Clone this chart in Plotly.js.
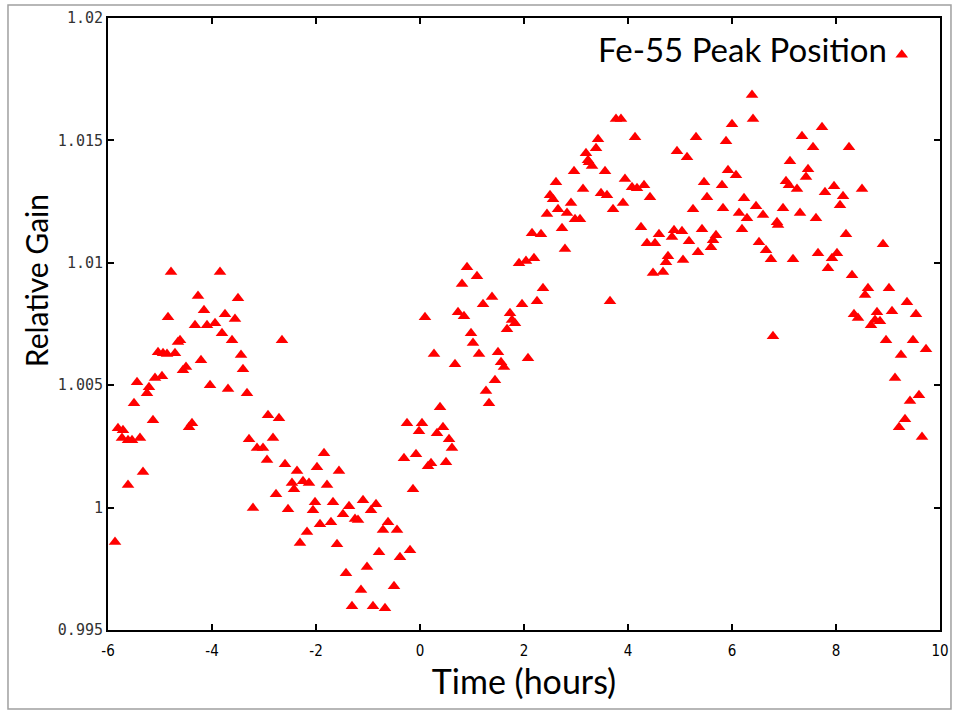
<!DOCTYPE html>
<html>
<head>
<meta charset="utf-8">
<script src="https://cdn.plot.ly/plotly-3.0.1.min.js"></script>
<style>
html,body{margin:0;padding:0;background:#fff;}
#chart{width:955px;height:713px;}
</style>
</head>
<body>
<div id="chart"></div>
<script>
const seriesName = 'Fe-55 Peak Position';
const xTitle = 'Time (hours)';
const yTitle = 'Relative Gain';
const xTickVals = [-6, -4, -2, 0, 2, 4, 6, 8, 10];
const xTickText = ['-6', '-4', '-2', '0', '2', '4', '6', '8', '10'];
const yTickVals = [0.995, 1, 1.005, 1.01, 1.015, 1.02];
const yTickText = ['0.995', '1', '1.005', '1.01', '1.015', '1.02'];

const timeHours = [
-5.865,-5.808,-5.712,-5.731,-5.615,-5.538,-5.385,-5.615,-5.327,-5.5,-5.442,-5.25,-5.212,-5.135,-5.096,-4.962,-5.038,-4.942,-4.865,-4.712,
-4.846,-4.788,-4.654,-4.615,-4.558,-4.5,-4.442,-4.385,-4.327,-4.269,-4.212,-4.154,-4.096,-3.942,-4.038,-3.846,-3.808,-3.75,-3.692,-3.615,
-3.558,-3.5,-3.442,-3.404,-3.327,-3.212,-3.288,-3.135,-3.019,-2.942,-2.923,-2.827,-2.712,-2.654,-2.769,-2.596,-2.538,-2.462,-2.423,-2.365,
-2.308,-2.25,-2.135,-1.981,-2.173,-2.058,-2.019,-1.923,-1.846,-1.558,-1.788,-1.673,-1.365,-1.481,-1.096,-0.942,-0.846,-1.25,-1.192,-1.712,
-0.615,-0.712,-0.442,-1.596,-0.788,-0.385,-0.192,-1.019,-1.423,-0.5,-1.135,-1.308,-0.904,-0.673,-0.135,-0.308,-0.077,0.154,0.212,0.5,
0.615,0.558,0.442,0.327,0.385,-0.25,0.038,-0.019,0.673,1.442,1.269,1.327,1.558,1.615,1.5,2.077,1.135,0.269,0.981,1.019,
1.673,1.769,1.827,1.731,1.962,2.25,2.365,0.096,0.731,0.846,0.808,0.904,1.096,1.212,1.385,1.904,2.038,2.192,3.654,2.788,
2.154,2.327,2.731,2.442,2.654,2.827,2.981,3.077,2.904,2.5,2.558,2.615,3.135,2.962,3.25,3.308,3.558,3.481,3.596,3.712,
3.769,3.865,4.135,3.423,3.385,3.192,3.231,3.942,4.077,4.173,4.308,4.423,3.904,4.25,4.365,4.519,4.596,4.481,4.673,4.731,
4.769,4.885,4.846,5.038,5.058,5.173,5.346,5.423,5.596,5.635,5.692,5.25,5.519,5.462,5.308,4.942,5.135,6.385,6.404,6.0,
5.885,7.115,5.923,6.077,5.808,5.827,6.231,6.462,6.596,6.135,6.288,6.981,7.038,7.096,7.25,6.865,6.885,6.192,6.519,6.654,
6.75,7.173,6.788,7.731,7.346,7.558,8.25,7.462,7.423,7.962,7.788,8.135,8.077,8.5,7.308,7.615,8.192,8.904,7.654,8.019,
7.923,7.846,8.308,8.615,8.558,9.019,9.365,9.077,9.538,8.346,8.423,8.788,8.75,8.846,8.673,8.962,9.481,9.731,9.25,9.135,
9.596,9.423,9.327,9.212,9.654
];

const relGain = [
0.99859,1.00324,1.00316,1.00284,1.00275,1.00275,1.00284,1.00092,1.00145,1.00426,1.00512,1.00467,1.00492,1.00357,1.00529,1.00537,1.00635,1.00631,1.00627,1.00631,
1.00778,1.00962,1.00676,1.00684,1.00561,1.00574,1.00328,1.00345,1.00745,1.00864,1.00602,1.00806,1.00745,1.00753,1.00500,1.00962,1.00712,1.00790,1.00484,1.00684,
1.00770,1.00855,1.00623,1.00565,1.00467,0.99998,1.00279,1.00243,1.00243,1.00194,1.00377,1.00284,1.00365,1.00684,1.00055,1.00177,0.99993,1.00100,1.00075,1.00149,
0.99855,1.00108,1.00100,1.00165,0.99900,0.99989,1.00022,0.99932,1.00222,1.00149,1.00092,1.00022,1.00006,0.99973,1.00030,0.99989,1.00014,0.99953,0.99949,0.99940,
0.99940,0.99908,0.99908,0.99850,0.99818,0.99797,0.99826,0.99757,0.99732,0.99679,0.99663,0.99597,0.99597,0.99589,1.00075,1.00202,1.00218,1.00169,1.00181,1.00185,
1.00243,1.00279,1.00328,1.00304,1.00410,1.00345,1.00345,1.00312,1.00586,1.00520,1.00476,1.00426,1.00594,1.00574,1.00635,1.00610,1.00627,1.00627,1.00712,1.00672,
1.00729,1.00766,1.00753,1.00794,1.00831,1.00843,1.00896,1.00778,1.00798,1.00782,1.00913,1.00982,1.00945,1.00831,1.00860,1.00998,1.01007,1.01019,1.00843,1.01056,
1.01121,1.01117,1.01141,1.01199,1.01219,1.01203,1.01178,1.01178,1.01244,1.01276,1.01260,1.01329,1.01301,1.01374,1.01411,1.01395,1.01374,1.01284,1.01276,1.01219,
1.01587,1.01587,1.01513,1.01505,1.01468,1.01448,1.01419,1.01342,1.01309,1.01305,1.01317,1.01268,1.01244,1.01145,1.01080,1.01080,1.01117,1.00958,1.00962,1.01002,
1.01027,1.01133,1.01105,1.01129,1.01011,1.01088,1.01043,1.01137,1.01064,1.01092,1.01113,1.01219,1.01268,1.01329,1.01513,1.01456,1.01431,1.01685,1.01587,1.01566,
1.01497,1.01415,1.01378,1.01358,1.01317,1.01223,1.01264,1.01231,1.01195,1.01203,1.01182,1.01223,1.01333,1.01317,1.01301,1.01166,1.01154,1.01137,1.01084,1.01051,
1.01015,1.01015,1.00700,1.01554,1.01517,1.01472,1.01472,1.01382,1.01350,1.01313,1.01288,1.01272,1.01235,1.01301,1.01203,1.01182,1.01117,1.01076,1.01039,1.01039,
1.01019,1.00978,1.00949,1.00896,1.00868,1.00896,1.00839,1.00802,1.00790,1.00790,1.00774,1.00798,1.00766,1.00761,1.00745,1.00684,1.00684,1.00647,1.00623,1.00529,
1.00459,1.00435,1.00361,1.00328,1.00288
];

const titleFont = 'Lato, "Open Sans", sans-serif';

const trace = {
  x: timeHours,
  y: relGain,
  type: 'scatter',
  mode: 'markers',
  name: ' ',
  marker: {symbol: 'triangle-up', size: 11, color: '#ff0000', line: {width: 0}},
  showlegend: true
};

const layout = {
  width: 955,
  height: 713,
  margin: {l: 108, r: 15, t: 18, b: 83},
  paper_bgcolor: '#ffffff',
  plot_bgcolor: '#ffffff',
  showlegend: true,
  legend: {
    x: 0.93, y: 0.978, xanchor: 'left', yanchor: 'top',
    bgcolor: 'rgba(0,0,0,0)', borderwidth: 0,
    font: {family: titleFont, size: 26, color: '#000'},
    itemwidth: 30
  },
  xaxis: {
    range: [-6, 10],
    tickvals: xTickVals,
    ticktext: xTickText,
    ticks: 'inside',
    ticklen: 6,
    tickwidth: 2,
    tickcolor: '#000',
    showline: true,
    linecolor: '#000',
    linewidth: 2,
    mirror: 'ticks',
    showgrid: false,
    zeroline: false,
    ticklabelstandoff: 6,
    tickfont: {family: '"Liberation Sans Narrow", "DejaVu Sans Condensed", "Liberation Sans", sans-serif', size: 15, color: '#000'},
    title: {text: xTitle, font: {family: titleFont, size: 34, color: '#000'}, standoff: 6}
  },
  yaxis: {
    range: [0.995, 1.02],
    tickvals: yTickVals,
    ticktext: yTickText,
    ticks: 'inside',
    ticklen: 6,
    tickwidth: 2,
    tickcolor: '#000',
    showline: true,
    linecolor: '#000',
    linewidth: 2,
    mirror: 'ticks',
    showgrid: false,
    zeroline: false,
    tickfont: {family: '"DejaVu Sans Mono", "Liberation Mono", monospace', size: 15, color: '#333'}
  },
  annotations: [
    {
      text: yTitle, xref: 'paper', yref: 'paper',
      x: -0.0865, y: 0.57, xanchor: 'center', yanchor: 'middle',
      textangle: -90, showarrow: false,
      font: {family: titleFont, size: 30, color: '#000'}
    },
    {
      text: seriesName, xref: 'paper', yref: 'paper',
      x: 0.939, y: 0.95, xanchor: 'right', yanchor: 'middle',
      showarrow: false,
      font: {family: titleFont, size: 33, color: '#000'}
    }
  ],
  shapes: [
    {type: 'rect', xref: 'paper', yref: 'paper', x0: -0.1202, x1: 1.0132, y0: -0.1291, y1: 1.0212,
     line: {color: '#a0a0a0', width: 1.5}, fillcolor: 'rgba(0,0,0,0)', layer: 'below'}
  ]
};

Plotly.newPlot('chart', [trace], layout, {displayModeBar: false, staticPlot: true});
</script>
</body>
</html>
